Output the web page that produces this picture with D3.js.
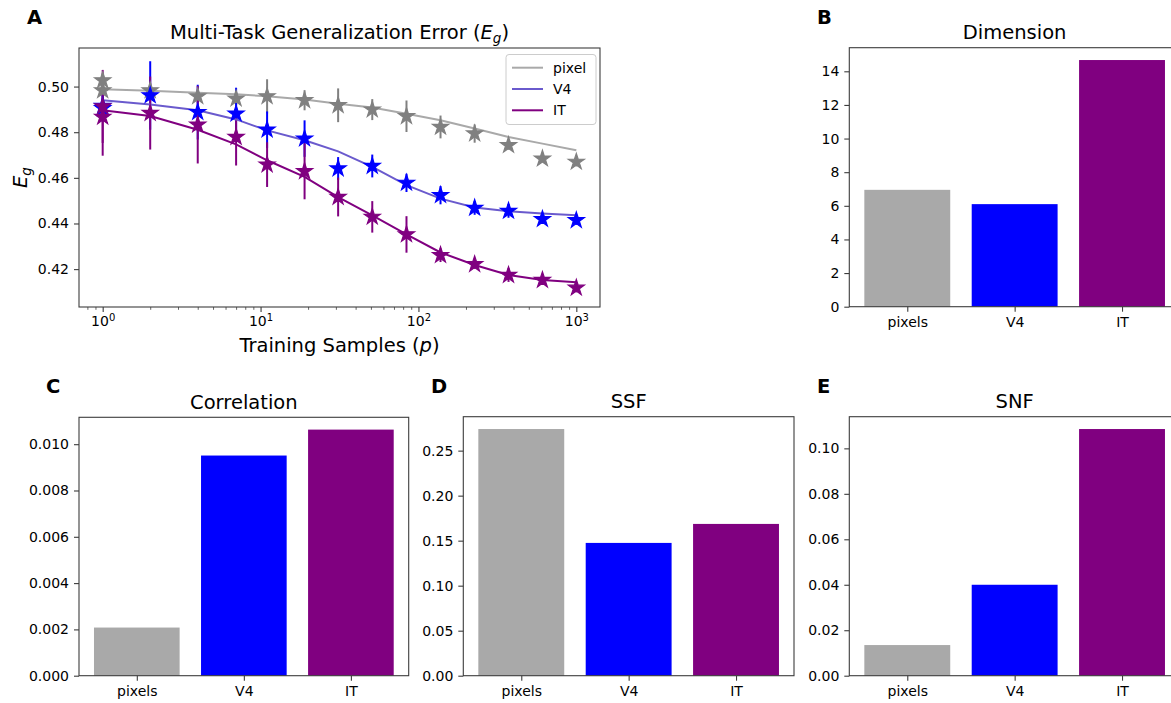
<!DOCTYPE html>
<html>
<head>
<meta charset="utf-8">
<script src="https://cdn.jsdelivr.net/npm/d3@7"></script>
<style>
  body { margin: 0; background: #fff; }
  text { font-family: "DejaVu Sans", sans-serif; fill: #000; }
</style>
</head>
<body>
<svg id="fig" width="1171" height="703"></svg>
<script>
// ---- data ----
var pSamples = [1, 1, 2, 4, 7, 11, 19, 31, 51, 84, 138, 227, 372, 610, 1000];
var pixelEg  = [0.5027, 0.4983, 0.4983, 0.4957, 0.4947, 0.4957, 0.4940, 0.4918, 0.4899, 0.4870, 0.4823, 0.4794, 0.4743, 0.4684, 0.4670];
var pixelErr = [0.003, 0.002, 0.003, 0.003, 0.003, 0.0075, 0.0044, 0.0074, 0.0046, 0.0069, 0.005, 0.004, 0.002, 0.0015, 0.002];
var v4Eg     = [0.4915, 0.4905, 0.4961, 0.4888, 0.4881, 0.4811, 0.4772, 0.4641, 0.4652, 0.4578, 0.4524, 0.4468, 0.4455, 0.4419, 0.4414];
var v4Err    = [0.006, 0.006, 0.015, 0.012, 0.0114, 0.008, 0.008, 0.005, 0.005, 0.004, 0.004, 0.003, 0.003, 0.002, 0.002];
var itEg     = [0.4913, 0.4867, 0.4884, 0.4833, 0.4779, 0.4658, 0.4629, 0.4516, 0.4429, 0.4352, 0.4261, 0.4221, 0.4174, 0.4152, 0.4118];
var itErr    = [0.016, 0.017, 0.016, 0.017, 0.0125, 0.0098, 0.0123, 0.0085, 0.0069, 0.008, 0.003, 0.002, 0.003, 0.002, 0.002];

// theory curves
var pTheory     = [1, 2, 4, 7, 11, 19, 31, 51, 84, 138, 227, 372, 610, 1000];
var pixelTheory = [0.4988, 0.4982, 0.4973, 0.4966, 0.4958, 0.4943, 0.4925, 0.4908, 0.4881, 0.4852, 0.4816, 0.4779, 0.4750, 0.4721];
var v4Theory    = [0.4940, 0.4921, 0.4896, 0.4856, 0.4808, 0.4765, 0.4716, 0.4648, 0.4568, 0.4509, 0.4470, 0.4454, 0.4444, 0.4436];
var itTheory    = [0.4896, 0.4871, 0.4811, 0.4747, 0.4677, 0.4604, 0.4516, 0.4436, 0.4352, 0.4273, 0.4218, 0.4174, 0.4152, 0.4142];

var egTicks = [0.42, 0.44, 0.46, 0.48, 0.50];

// bar panels
var regions     = ["pixels", "V4", "IT"];
var dimension   = [6.95, 6.10, 14.67];
var correlation = [0.00208, 0.00951, 0.01063];
var ssf         = [0.274, 0.1475, 0.1686];
var snf         = [0.01348, 0.0400, 0.1085];

var barColors = ["#a9a9a9", "#0000ff", "#800080"];

var svg = d3.select("#fig");
var spine = "#3c3c3c";

function frame(b) {
  svg.append("rect")
    .attr("x", b.left).attr("y", b.top)
    .attr("width", b.right - b.left).attr("height", b.bottom - b.top)
    .attr("fill", "none").attr("stroke", spine).attr("stroke-width", 1.1);
}

function styleAxis(g) {
  g.select(".domain").remove();
  g.selectAll(".tick line").attr("stroke", spine).attr("stroke-width", 1.1);
  g.selectAll(".tick text").attr("font-size", "14px").attr("fill", "#000");
}

function panelLabel(txt, px, py) {
  svg.append("text").attr("x", px).attr("y", py)
    .attr("font-size", "19.5px").attr("font-weight", "bold").text(txt);
}

function title(txt, cx, cy) {
  return svg.append("text").attr("x", cx).attr("y", cy)
    .attr("text-anchor", "middle").attr("font-size", "19.5px").text(txt);
}

// ---- panel A ----
var a = {left: 79, right: 600, top: 48, bottom: 307};

var x = d3.scaleLog()
  .domain([Math.pow(10, -0.15), Math.pow(10, 3.15)])
  .range([a.left, a.right]);

var y = d3.scaleLinear()
  .domain([0.4034, 0.5169])
  .range([a.bottom, a.top]);

var series = [
  {name: "pixel", eg: pixelEg, err: pixelErr, theory: pixelTheory, line: "#a9a9a9", mark: "#808080"},
  {name: "V4",    eg: v4Eg,    err: v4Err,    theory: v4Theory,    line: "#6a5acd", mark: "#0000ff"},
  {name: "IT",    eg: itEg,    err: itErr,    theory: itTheory,    line: "#800080", mark: "#800080"}
];

var plotA = svg.append("g");

// error bars sit below every marker
series.forEach(function(s) {
  plotA.append("g").selectAll("line")
    .data(pSamples)
    .enter().append("line")
    .attr("x1", function(d) { return x(d); })
    .attr("x2", function(d) { return x(d); })
    .attr("y1", function(d, i) { return y(s.eg[i] - s.err[i]); })
    .attr("y2", function(d, i) { return y(s.eg[i] + s.err[i]); })
    .attr("stroke", s.mark).attr("stroke-width", 2);
});

var star = d3.symbol().type(d3.symbolStar).size(80);

series.forEach(function(s) {
  var ln = d3.line()
    .x(function(d) { return x(d); })
    .y(function(d, i) { return y(s.theory[i]); });
  plotA.append("path")
    .datum(pTheory)
    .attr("d", ln)
    .attr("fill", "none").attr("stroke", s.line).attr("stroke-width", 2);

  plotA.append("g").selectAll("path")
    .data(pSamples)
    .enter().append("path")
    .attr("d", star)
    .attr("transform", function(d, i) { return "translate(" + x(d) + "," + y(s.eg[i]) + ")"; })
    .attr("fill", s.mark).attr("stroke", s.mark).attr("stroke-width", 1.2)
    .attr("stroke-linejoin", "miter");
});

frame(a);

// y axis
var gy = svg.append("g")
  .attr("transform", "translate(" + a.left + ",0)")
  .call(d3.axisLeft(y).tickValues(egTicks).tickFormat(d3.format(".2f")).tickSize(5).tickPadding(5));
styleAxis(gy);

// x axis, major + minor ticks
var minor = [];
[0.1, 1, 10, 100].forEach(function(dec) {
  for (var k = 2; k <= 9; k++) {
    var v = dec * k;
    if (v > x.domain()[0] && v < x.domain()[1]) minor.push(v);
  }
});
var gxm = svg.append("g")
  .attr("transform", "translate(0," + a.bottom + ")")
  .call(d3.axisBottom(x).tickValues(minor).tickFormat("").tickSize(2.8));
styleAxis(gxm);
gxm.selectAll(".tick line").attr("stroke-width", 0.8);

var gx = svg.append("g")
  .attr("transform", "translate(0," + a.bottom + ")")
  .call(d3.axisBottom(x).tickValues([1, 10, 100, 1000]).tickFormat("").tickSize(5).tickPadding(5));
styleAxis(gx);
gx.selectAll(".tick").append("text")
  .attr("y", 19).attr("font-size", "14px").attr("text-anchor", "middle").attr("fill", "#000")
  .each(function(d) {
    var t = d3.select(this);
    t.append("tspan").text("10");
    t.append("tspan").attr("dy", "-0.5em").attr("font-size", "10px").text(Math.round(Math.log10(d)));
  });

// titles / labels
var tA = title("", (a.left + a.right) / 2, 39);
tA.append("tspan").text("Multi-Task Generalization Error (");
tA.append("tspan").attr("font-style", "italic").text("E");
tA.append("tspan").attr("font-style", "italic").attr("font-size", "13.5px").attr("dy", "4").text("g");
tA.append("tspan").attr("dy", "-4").text(")");

var xl = svg.append("text")
  .attr("x", (a.left + a.right) / 2).attr("y", 352)
  .attr("text-anchor", "middle").attr("font-size", "19.5px");
xl.append("tspan").text("Training Samples (");
xl.append("tspan").attr("font-style", "italic").text("p");
xl.append("tspan").text(")");

var yl = svg.append("text")
  .attr("transform", "translate(27," + ((a.top + a.bottom) / 2) + ") rotate(-90)")
  .attr("text-anchor", "middle").attr("font-size", "19.5px");
yl.append("tspan").attr("font-style", "italic").text("E");
yl.append("tspan").attr("font-style", "italic").attr("font-size", "13.5px").attr("dy", "4").text("g");

// legend
var lg = svg.append("g").attr("transform", "translate(506,54.5)");
lg.append("rect").attr("width", 90).attr("height", 70).attr("rx", 3)
  .attr("fill", "#fff").attr("fill-opacity", 0.8).attr("stroke", "#cccccc");
series.forEach(function(s, i) {
  var yy = 13.2 + i * 21.3;
  lg.append("line").attr("x1", 6).attr("x2", 37).attr("y1", yy).attr("y2", yy)
    .attr("stroke", s.line).attr("stroke-width", 2);
  lg.append("text").attr("x", 47).attr("y", yy).attr("dy", "0.36em")
    .attr("font-size", "14px").text(s.name);
});

// ---- bar panels ----
function barPanel(b, values, ticks, fmt, name, letter, lx, ly) {
  var bx = d3.scaleLinear().domain([-0.54, 2.54]).range([b.left, b.right]);
  var by = d3.scaleLinear().domain([0, d3.max(values) * 1.05]).range([b.bottom, b.top]);

  svg.append("g").selectAll("rect")
    .data(values)
    .enter().append("rect")
    .attr("x", function(d, i) { return bx(i - 0.4); })
    .attr("width", bx(0.8) - bx(0))
    .attr("y", function(d) { return by(d); })
    .attr("height", function(d) { return by(0) - by(d); })
    .attr("fill", function(d, i) { return barColors[i]; });

  frame(b);

  var gyb = svg.append("g")
    .attr("transform", "translate(" + b.left + ",0)")
    .call(d3.axisLeft(by).tickValues(ticks).tickFormat(fmt).tickSize(5).tickPadding(5));
  styleAxis(gyb);

  var gxb = svg.append("g")
    .attr("transform", "translate(0," + b.bottom + ")")
    .call(d3.axisBottom(bx).tickValues([0, 1, 2]).tickFormat(function(d) { return regions[d]; })
      .tickSize(5).tickPadding(5));
  styleAxis(gxb);

  title(name, (b.left + b.right) / 2, b.top - 8.5);
  panelLabel(letter, lx, ly);
}

barPanel({left: 849.3, right: 1180, top: 47.7, bottom: 306.7}, dimension,
  [0, 2, 4, 6, 8, 10, 12, 14], d3.format("d"), "Dimension", "B", 817, 24);

barPanel({left: 79, right: 408.7, top: 417.3, bottom: 675.7}, correlation,
  [0, 0.002, 0.004, 0.006, 0.008, 0.010], d3.format(".3f"), "Correlation", "C", 46, 393);

barPanel({left: 463.3, right: 794, top: 416.7, bottom: 675.7}, ssf,
  [0, 0.05, 0.10, 0.15, 0.20, 0.25], d3.format(".2f"), "SSF", "D", 431, 393);

barPanel({left: 849.3, right: 1180, top: 416.7, bottom: 675.7}, snf,
  [0, 0.02, 0.04, 0.06, 0.08, 0.10], d3.format(".2f"), "SNF", "E", 817, 393);

panelLabel("A", 27, 24);
</script>
</body>
</html>
